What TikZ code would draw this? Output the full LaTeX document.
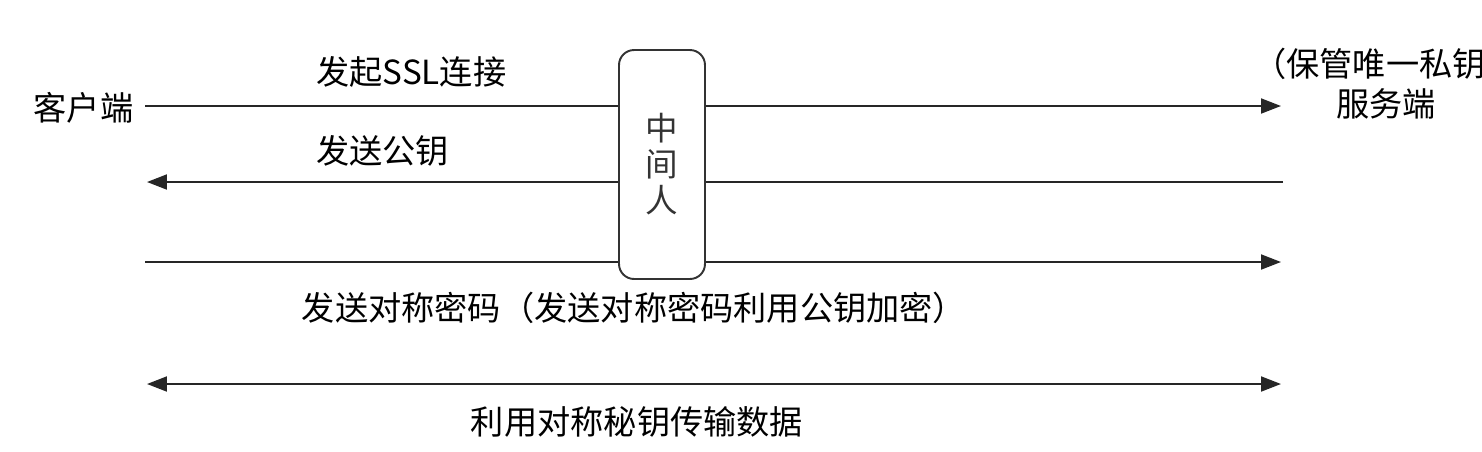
\documentclass[tikz,border=0pt]{standalone}
\usepackage{fontspec}
\setmainfont{Noto Sans CJK SC}
\usetikzlibrary{arrows.meta}

\tikzset{
  msgline/.style={line width=1.1pt, black!85},
  toright/.style={-{Triangle[length=0.4cm,width=0.3cm]}},
  toleft/.style={{Triangle[length=0.4cm,width=0.3cm]}-},
  bothway/.style={{Triangle[length=0.4cm,width=0.3cm]}-{Triangle[length=0.4cm,width=0.3cm]}},
  lbl/.style={inner sep=0pt, font=\fontsize{18.9}{22.7}\selectfont}
}

\begin{document}
\begin{tikzpicture}[x=0.02cm, y=-0.02cm]
  \useasboundingbox (0,0) rectangle (1482,451);

  % The two ends and the man in the middle
  \node[lbl] (client) at (83.5,108) {客户端};
  \node[lbl, align=center] (server) at (1386,84) {（保管唯一私钥\phantom{）}\\服务端};
  \node[draw, black!80, line width=1.1pt, rounded corners=0.3cm,
        minimum width=1.72cm, minimum height=4.58cm, inner sep=0pt,
        align=center, font=\fontsize{18.5}{20.5}\selectfont] (mitm) at (662,164.5) {中\\间\\人};

  % End points of the messages
  \coordinate (l1) at (145,106);  \coordinate (r1) at (1281,106);
  \coordinate (l2) at (147,182);  \coordinate (r2) at (1283,182);
  \coordinate (l3) at (145,262);  \coordinate (r3) at (1281,262);
  \coordinate (l4) at (147,384);  \coordinate (r4) at (1281,384);

  % Messages through the middle box
  \draw[msgline] (l1) -- (l1 -| mitm.west);
  \draw[msgline, toright] (r1 -| mitm.east) -- (r1);
  \draw[msgline] (r2) -- (r2 -| mitm.east);
  \draw[msgline, toleft] (l2) -- (l2 -| mitm.west);
  \draw[msgline] (l3) -- (l3 -| mitm.west);
  \draw[msgline, toright] (r3 -| mitm.east) -- (r3);
  \draw[msgline, bothway] (l4) -- (r4);

  % Add labels
  \node[lbl, anchor=west] (ssl) at (316,72) {发起SSL连接};
  \node[lbl, anchor=west] (pubkey) at (316,151) {发送公钥};
  \node[lbl] (symkey) at (634,308) {发送对称密码（发送对称密码利用公钥加密）};
  \node[lbl] (data) at (637,422) {利用对称秘钥传输数据};
\end{tikzpicture}
\end{document}
